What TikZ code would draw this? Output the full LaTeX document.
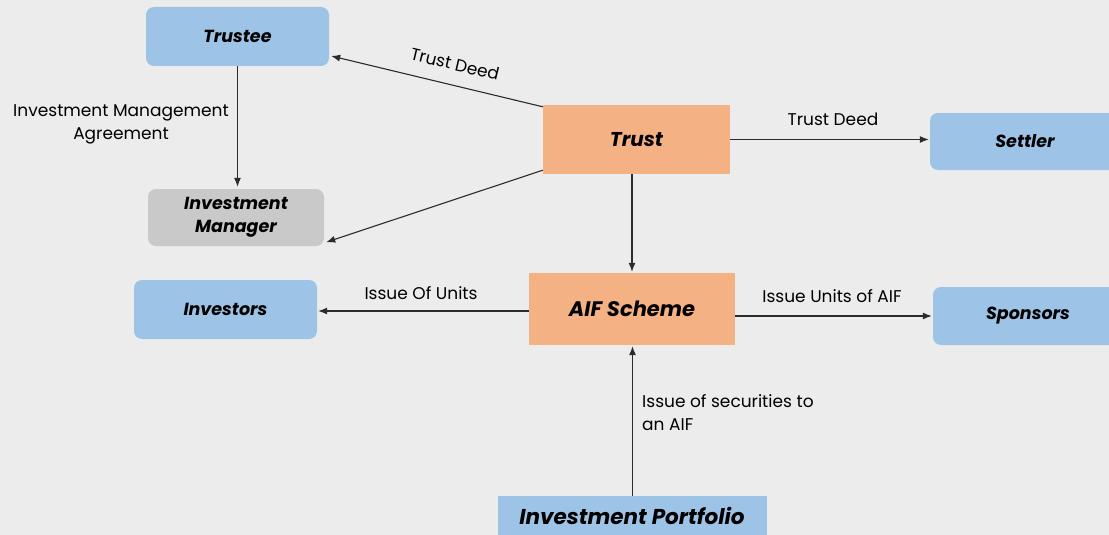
\documentclass[tikz,border=0pt]{standalone}
\usepackage{fontspec}
\setmainfont{Poppins}
\usetikzlibrary{arrows.meta}
\definecolor{bg}{HTML}{ECECEC}
\definecolor{boxblue}{HTML}{9DC3E6}
\definecolor{boxgray}{HTML}{C9C9C9}
\definecolor{boxorange}{HTML}{F4B183}
\definecolor{linec}{HTML}{2B2B2B}
\tikzset{
  party/.style={fill=boxblue, rounded corners=8pt, font=\fontsize{17.5}{23}\selectfont\bfseries\itshape, align=center, inner sep=0pt},
  core/.style={fill=boxorange, font=\fontsize{20}{22}\selectfont\bfseries\itshape, align=center, inner sep=0pt},
  lbl/.style={font=\fontsize{17}{23}\selectfont, text=black, inner sep=1pt},
  flow/.style={draw=linec, line width=1.1pt, -{Latex[length=9pt,width=7pt]}},
}
\begin{document}
\begin{tikzpicture}[x=1pt,y=-1pt]
\fill[bg] (0,0) rectangle (1109,535);
\useasboundingbox (0,0) rectangle (1109,535);
% boxes
\node[party, minimum width=183pt, minimum height=59pt] (trustee) at (237.5,36.5) {Trustee};
\node[party, fill=boxgray, minimum width=176pt, minimum height=57pt] (mgr) at (236,217.5) {Investment\\Manager};
\node[core, minimum width=187pt, minimum height=69pt] (trust) at (636.5,139.5) {Trust};
\node[party, minimum width=190pt, minimum height=57pt] (settler) at (1025,141.5) {Settler};
\node[party, minimum width=183pt, minimum height=59pt] (investors) at (225.5,309.5) {Investors};
\node[core, font=\fontsize{21}{23}\selectfont\bfseries\itshape, minimum width=206pt, minimum height=72pt] (aif) at (632,309) {AIF Scheme};
\node[party, minimum width=190pt, minimum height=58pt] (sponsors) at (1028,316) {Sponsors};
\node[party, rounded corners=0pt, minimum width=269pt, minimum height=42pt, anchor=north] (portfolio) at (632.5,496) {};
\node[font=\fontsize{21.5}{23}\selectfont\bfseries\itshape, inner sep=0pt] (portfoliotext) at (632,516) {Investment Portfolio};
% connectors
\coordinate (aifw) at ([yshift=-2pt]aif.west);
\draw[flow] ([yshift=-2pt]trust.north west) -- ([xshift=2pt,yshift=-19.5pt]trustee.east);
\draw[flow] ([yshift=4pt]trust.south west) -- ([xshift=2pt,yshift=4pt]mgr.south east);
\draw[flow] (trustee.south) -- ([yshift=2pt]trustee.south |- mgr.north);
\draw[flow] (trust.east) -- ([xshift=-1pt]trust.east -| settler.west);
\draw[flow] (aif.north |- trust.south) -- ([yshift=1pt]aif.north);
\draw[flow] (aifw) -- ([xshift=1pt]aifw -| investors.east);
\draw[flow] (aif.east |- sponsors.west) -- ([xshift=-1pt]sponsors.west);
\draw[flow] (portfolio.north) -- ([yshift=-1pt]portfolio.north |- aif.south);
% connector labels
\node[lbl, rotate=-13.5] (ltrustdeed) at (455,64) {Trust Deed};
\node[lbl, align=center] (limagr) at (121,124) {Investment Management\\Agreement};
\node[lbl] (lsettler) at (833,119) {Trust Deed};
\node[lbl] (lunits) at (421,293) {Issue Of Units};
\node[lbl] (lsponsor) at (832,296) {Issue Units of AIF};
\node[lbl, align=left, anchor=west] (lsec) at (641,413) {Issue of securities to\\an AIF};
\end{tikzpicture}
\end{document}
